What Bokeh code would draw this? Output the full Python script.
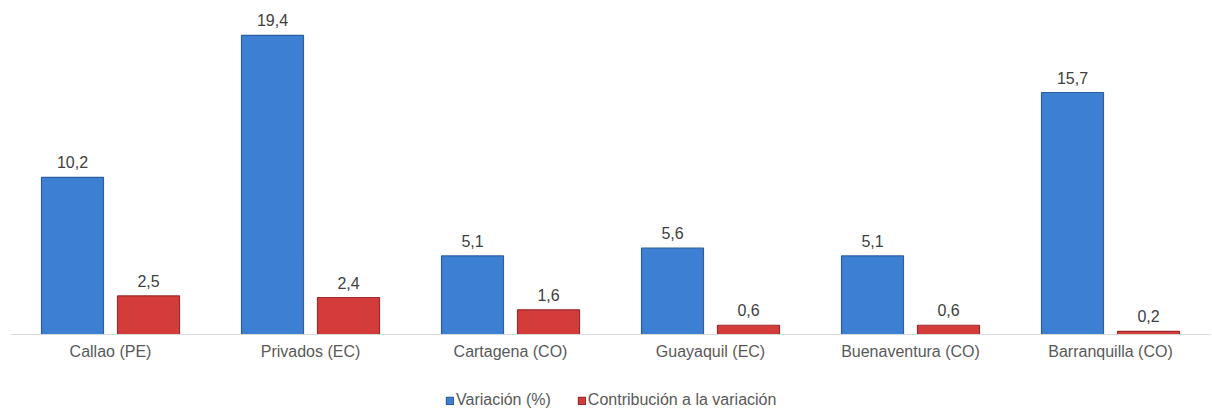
from bokeh.plotting import figure
from bokeh.models import ColumnDataSource, FactorRange, LabelSet, Legend, LegendItem
from bokeh.core.properties import value
from bokeh.transform import dodge
from bokeh.embed import file_html
from bokeh.resources import INLINE

categories = ["Callao (PE)", "Privados (EC)", "Cartagena (CO)", "Guayaquil (EC)",
              "Buenaventura (CO)", "Barranquilla (CO)"]
variacion = [10.2, 19.4, 5.1, 5.6, 5.1, 15.7]
contribucion = [2.5, 2.4, 1.6, 0.6, 0.6, 0.2]
series_names = ["Variación (%)", "Contribución a la variación"]

def fmt(v):
    return f"{v:.1f}".replace(".", ",")

src = ColumnDataSource(dict(
    cat=categories,
    v1=variacion,
    v2=contribucion,
    t1=[fmt(v) for v in variacion],
    t2=[fmt(v) for v in contribucion],
))

FONT = "Liberation Sans"

p = figure(x_range=FactorRange(*categories), y_range=(-5.06, 21.15),
           frame_width=1200, frame_height=404, output_backend="svg", toolbar_location=None,
           min_border_left=10, min_border_right=2, min_border_top=8, min_border_bottom=0)
p.outline_line_color = None
p.grid.grid_line_color = None
p.yaxis.visible = False

r1 = p.vbar(x=dodge("cat", -0.19, range=p.x_range), top="v1", bottom=0, width=0.31, source=src,
            fill_color="#3d7fd3", line_color="#2b5f9f", line_width=1.2)
r2 = p.vbar(x=dodge("cat", 0.19, range=p.x_range), top="v2", bottom=0, width=0.31, source=src,
            fill_color="#d43b3b", line_color="#9c2b2b", line_width=1.2)

for col, tcol, off in (("v1", "t1", -0.19), ("v2", "t2", 0.19)):
    lbl = LabelSet(x=dodge("cat", off, range=p.x_range), y=col, text=tcol, source=src,
                   text_align="center", text_baseline="alphabetic", y_offset=9,
                   text_font=value(FONT), text_font_size="16px", text_color="#404040")
    p.add_layout(lbl)

xa = p.xaxis[0]
xa.fixed_location = 0
xa.axis_line_color = "#d9d9d9"
xa.axis_line_width = 1
xa.major_tick_line_color = None
xa.minor_tick_line_color = None
xa.major_tick_out = 0
xa.major_tick_in = 0
xa.major_label_text_font = FONT
xa.major_label_text_font_size = "16px"
xa.major_label_text_color = "#595959"
xa.major_label_standoff = 8

legend = Legend(items=[LegendItem(label=series_names[0], renderers=[r1]),
                       LegendItem(label=series_names[1], renderers=[r2])],
                orientation="horizontal", location=(435, 3),
                label_text_font=FONT, label_text_font_size="16px",
                label_text_color="#595959", glyph_width=9, glyph_height=9,
                label_standoff=2, spacing=26, padding=0, margin=0,
                border_line_color=None, background_fill_alpha=0,
                label_height=16)
p.add_layout(legend, "center")

open("out.html", "w").write(file_html(p, INLINE))
